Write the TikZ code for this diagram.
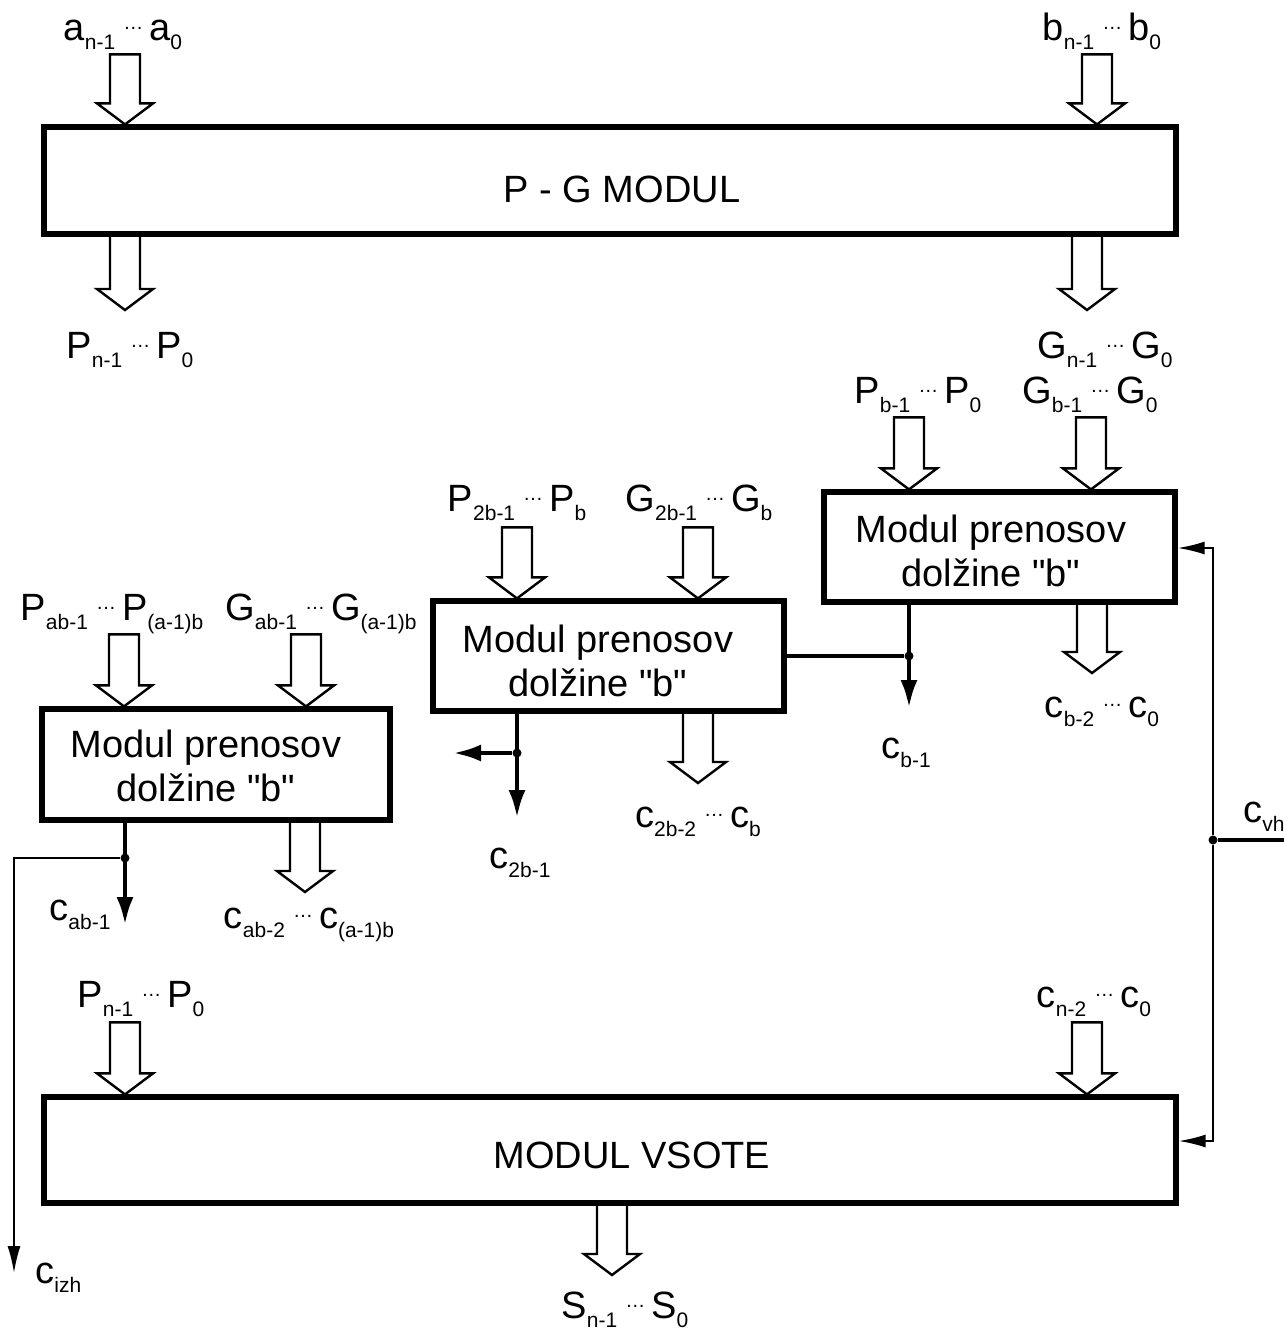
\documentclass[tikz,border=0pt]{standalone}
\usepackage{fontspec}
\setmainfont{Liberation Sans}[Ligatures=TeXOff]
\usetikzlibrary{arrows.meta,fit}
\newcommand\sbs[1]{\raisebox{-4.5pt}{\fontsize{10.5}{12}\selectfont #1}}
\newcommand\dts{\hspace{4pt}\raisebox{5.5pt}{\fontsize{10}{10}\selectfont …}\hspace{3pt}}
\begin{document}
\begin{tikzpicture}[x=0.5pt,y=-0.5pt,line join=miter,
  box/.style={draw,line width=2.6pt,inner sep=0pt},
  lbl/.style={anchor=base,inner sep=0pt,font=\fontsize{19}{22}\selectfont},
  lblw/.style={anchor=base west,inner sep=0pt,font=\fontsize{19}{22}\selectfont},
  title/.style={inner sep=0pt,align=center,font=\fontsize{19}{22}\selectfont},
  busline/.style={draw,line width=1.2pt},
  sig/.style={line width=2.3pt},
  sigarrow/.style={sig,-{Latex[length=14pt,width=8.5pt]}},
  thin/.style={line width=1pt},
  thinarrow/.style={thin,-{Latex[length=13.5pt,width=6.5pt]}},
  junction/.style={circle,fill,inner sep=0pt,minimum size=4.5pt},
  pics/busarrow/.style={code={\draw[busline] (-15,-#1) -- (15,-#1) -- (15,-21) -- (28,-21) -- (0,0) -- (-28,-21) -- (-15,-21) -- cycle;}}]
\useasboundingbox (0,0) rectangle (1284,1334);

% boxes
\node[box,fit={(44,127) (1176,234)}] (pg) {};
\node[box,fit={(824,492) (1175,602)}] (m1) {};
\node[box,fit={(433,601) (784,711)}] (m2) {};
\node[box,fit={(42,709) (390,820)}] (m3) {};
\node[box,fit={(44,1097) (1176,1203)}] (sum) {};

\node[title] (pgt) at (622,189) {P - G MODUL};
\node[title] (sumt) at (632,1155) {MODUL VSOTE};
\node[title] (m1t) at (991,551) {Modul prenosov\\dolžine "b"};
\node[title] (m2t) at (598,661) {Modul prenosov\\dolžine "b"};
\node[title] (m3t) at (206,766) {Modul prenosov\\dolžine "b"};

% labels
\node[lbl] (la) at (123,40) {a\sbs{n-1}\dts a\sbs{0}};
\node[lbl] (lb) at (1102,40) {b\sbs{n-1}\dts b\sbs{0}};
\node[lbl] (lP) at (130,358) {P\sbs{n-1}\dts P\sbs{0}};
\node[lbl] (lG) at (1105,358) {G\sbs{n-1}\dts G\sbs{0}};
\node[lbl] (lPb) at (918,403) {P\sbs{b-1}\dts P\sbs{0}};
\node[lbl] (lGb) at (1090,403) {G\sbs{b-1}\dts G\sbs{0}};
\node[lbl] (lP2b) at (517,511) {P\sbs{2b-1}\dts P\sbs{b}};
\node[lbl] (lG2b) at (699,511) {G\sbs{2b-1}\dts G\sbs{b}};
\node[lbl] (lPab) at (112,620) {P\sbs{ab-1}\dts P\sbs{(a-1)b}};
\node[lbl] (lGab) at (321,620) {G\sbs{ab-1}\dts G\sbs{(a-1)b}};
\node[lbl] (lcb2) at (1102,717) {c\sbs{b-2}\dts c\sbs{0}};
\node[lbl] (lcb1) at (906,758) {c\sbs{b-1}};
\node[lbl] (lc2b2) at (698,827) {c\sbs{2b-2}\dts c\sbs{b}};
\node[lbl] (lc2b1) at (520,868) {c\sbs{2b-1}};
\node[lbl] (lcab1) at (80,920) {c\sbs{ab-1}};
\node[lbl] (lcab2) at (309,928) {c\sbs{ab-2}\dts c\sbs{(a-1)b}};
\node[lblw] (lcvh) at (1243,822) {c\sbs{vh}};
\node[lbl] (lPs) at (141,1007) {P\sbs{n-1}\dts P\sbs{0}};
\node[lbl] (lcs) at (1094,1007) {c\sbs{n-2}\dts c\sbs{0}};
\node[lbl] (lS) at (625,1318) {S\sbs{n-1}\dts S\sbs{0}};
\node[lblw] (lcizh) at (35,1283) {c\sbs{izh}};

% bus arrows
\pic at (pg.north -| 125,0) {busarrow=70};
\pic at (pg.north -| 1097,0) {busarrow=70};
\pic at (125,310) {busarrow=76};
\pic at (1087,310) {busarrow=76};
\pic at (m1.north -| 909,0) {busarrow=72};
\pic at (m1.north -| 1091,0) {busarrow=72};
\pic at (1092,673) {busarrow=71};
\pic at (m2.north -| 517,0) {busarrow=71};
\pic at (m2.north -| 698,0) {busarrow=71};
\pic at (698,783) {busarrow=72};
\pic at (m3.north -| 124,0) {busarrow=72};
\pic at (m3.north -| 306,0) {busarrow=72};
\pic at (305,892) {busarrow=72};
\pic at (sum.north -| 125,0) {busarrow=72};
\pic at (sum.north -| 1087,0) {busarrow=72};
\pic at (612,1275) {busarrow=72};

% carry signals
\node[junction] (d1) at (909,656) {};
\node[junction] (d2) at (517,753) {};
\node[junction] (d3) at (125,858) {};
\node[junction] (dv) at (1213,840) {};
\coordinate (t1) at (909,708);
\coordinate (t2) at (517,818);
\coordinate (t2b) at (453,753);
\coordinate (t3) at (125,925);
\coordinate (tizh) at (14,1273);
\coordinate (ce) at (1290,840);
\coordinate (vt) at (1213,548);
\coordinate (vb) at (1213,1141);

\draw[sigarrow] (d1 |- m1.south) -- (t1);
\draw[sig] (m2.east |- d1) -- (d1);
\draw[sigarrow] (d2 |- m2.south) -- (t2);
\draw[sigarrow] (d2) -- (t2b);
\draw[sigarrow] (d3 |- m3.south) -- (t3);
\draw[thinarrow] (d3) -| (tizh);
\draw[sig] (ce) -- (dv);
\draw[thinarrow] (dv) -- (vt) -- (vt -| m1.east);
\draw[thinarrow] (dv) -- (vb) -- (vb -| sum.east);
\end{tikzpicture}
\end{document}
